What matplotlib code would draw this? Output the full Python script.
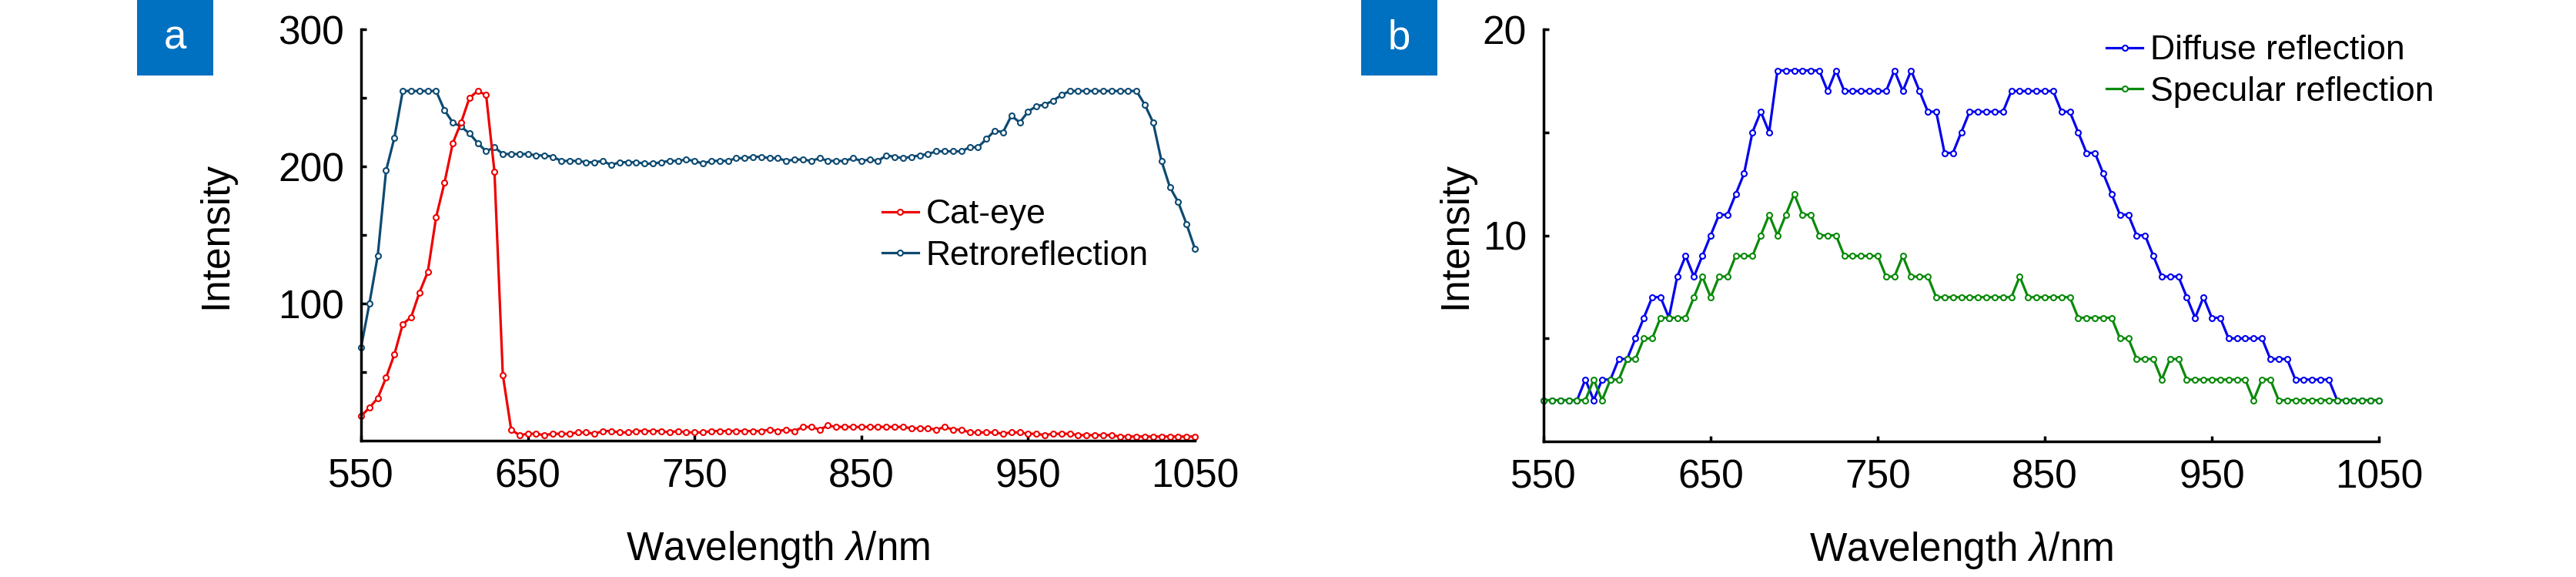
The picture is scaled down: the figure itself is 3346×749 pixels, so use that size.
import numpy as np
import matplotlib
matplotlib.use("Agg")
import matplotlib.pyplot as plt
from matplotlib.patches import Rectangle

plt.rcParams['font.family'] = ['Liberation Sans', 'DejaVu Sans']
plt.rcParams['mathtext.fontset'] = 'custom'
plt.rcParams['mathtext.rm'] = 'Liberation Sans'
plt.rcParams['mathtext.it'] = 'Liberation Sans:italic'

# wavelengths (nm), one sample every 5 nm
wavelength = np.arange(550, 1051, 5)

# panel a
cat_eye = [18, 24, 31, 46, 63, 85, 90, 108, 123, 163,
           188, 217, 232, 250, 255, 252, 196, 48, 8, 4,
           5, 5, 4, 5, 5, 5, 6, 6, 5, 7,
           7, 6, 6, 7, 7, 7, 7, 6, 7, 6,
           6, 6, 7, 7, 7, 7, 7, 7, 7, 8,
           7, 8, 7, 10, 10, 8, 11, 10, 10, 10,
           10, 10, 10, 10, 10, 10, 9, 9, 9, 8,
           10, 8, 8, 6, 6, 6, 6, 5, 6, 6,
           5, 5, 4, 5, 5, 5, 4, 4, 4, 4,
           4, 3, 3, 3, 3, 3, 3, 3, 3, 3,
           3]
retro = [68, 100, 135, 197, 221, 255, 255, 255, 255, 255,
         241, 232, 229, 224, 217, 211, 214, 209, 209, 209,
         209, 208, 208, 207, 204, 204, 204, 203, 203, 204,
         201, 203, 203, 203, 202, 202, 203, 204, 204, 205,
         204, 202, 204, 204, 204, 206, 206, 207, 207, 206,
         206, 204, 205, 205, 204, 206, 204, 204, 204, 206,
         204, 205, 204, 208, 207, 206, 207, 208, 209, 211,
         211, 211, 211, 214, 214, 220, 226, 225, 237, 232,
         240, 244, 245, 248, 252, 255, 255, 255, 255, 255,
         255, 255, 255, 255, 245, 232, 204, 185, 174, 158,
         140]

# panel b
diffuse = [2, 2, 2, 2, 2, 3, 2, 3, 3, 4,
           4, 5, 6, 7, 7, 6, 8, 9, 8, 9,
           10, 11, 11, 12, 13, 15, 16, 15, 18, 18,
           18, 18, 18, 18, 17, 18, 17, 17, 17, 17,
           17, 17, 18, 17, 18, 17, 16, 16, 14, 14,
           15, 16, 16, 16, 16, 16, 17, 17, 17, 17,
           17, 17, 16, 16, 15, 14, 14, 13, 12, 11,
           11, 10, 10, 9, 8, 8, 8, 7, 6, 7,
           6, 6, 5, 5, 5, 5, 5, 4, 4, 4,
           3, 3, 3, 3, 3, 2, 2, 2, 2, 2,
           2]
specular = [2, 2, 2, 2, 2, 2, 3, 2, 3, 3,
            4, 4, 5, 5, 6, 6, 6, 6, 7, 8,
            7, 8, 8, 9, 9, 9, 10, 11, 10, 11,
            12, 11, 11, 10, 10, 10, 9, 9, 9, 9,
            9, 8, 8, 9, 8, 8, 8, 7, 7, 7,
            7, 7, 7, 7, 7, 7, 7, 8, 7, 7,
            7, 7, 7, 7, 6, 6, 6, 6, 6, 5,
            5, 4, 4, 4, 3, 4, 4, 3, 3, 3,
            3, 3, 3, 3, 3, 2, 3, 3, 2, 2,
            2, 2, 2, 2, 2, 2, 2, 2, 2, 2,
            2]

xticks = [550, 650, 750, 850, 950, 1050]

W, H = 3346, 749
fig = plt.figure(figsize=(W / 100, H / 100), dpi=100)
ax1 = fig.add_axes([469 / W, 1 - 572 / H, 1083 / W, 534 / H])
ax2 = fig.add_axes([2005 / W, 1 - 573 / H, 1085 / W, 535 / H])

line_kw = dict(lw=2.3, marker='o', ms=5, mfc='white', mew=1.5, clip_on=False)
leg_kw = dict(frameon=False, fontsize=32, handlelength=1.05, handletextpad=0.22,
              borderpad=0, borderaxespad=0, labelspacing=0.28)

h_retro, = ax1.plot(wavelength, retro, color='#0d4a72', label='Retroreflection', **line_kw)
h_cat, = ax1.plot(wavelength, cat_eye, color='#ee0000', label='Cat-eye', **line_kw)
ax1.set_ylim(0, 300)
ax1.set_yticks([100, 200, 300])
ax1.set_yticks([50, 150, 250], minor=True)
ax1.legend(handles=[h_cat, h_retro], loc='center left', bbox_to_anchor=(0.625, 0.499), **leg_kw)

ax2.plot(wavelength, diffuse, color='#0000ee', label='Diffuse reflection', **line_kw)
ax2.plot(wavelength, specular, color='#0a8a0a', label='Specular reflection', **line_kw)
ax2.set_ylim(0, 20)
ax2.set_yticks([10, 20])
ax2.set_yticks([5, 15], minor=True)
ax2.legend(loc='center left', bbox_to_anchor=(0.674, 0.898), **leg_kw)

for ax, ylx in [(ax1, -0.151), (ax2, -0.083)]:
    ax.set_xlim(550, 1050)
    ax.set_xticks(xticks)
    for s in ['top', 'right']:
        ax.spines[s].set_visible(False)
    for s in ['left', 'bottom']:
        ax.spines[s].set_linewidth(2.5)
    ax.tick_params(which='both', direction='in', length=5, width=2.5,
                   labelsize=37, pad=16)
    ax.set_xlabel('Wavelength $\\lambda$/nm', fontsize=37)
    ax.set_ylabel('Intensity', fontsize=37)
    ax.xaxis.set_label_coords(0.5, -0.215)
    ax.yaxis.set_label_coords(ylx, 0.5)

# panel letters
for x0, letter in [(178, 'a'), (1768, 'b')]:
    fig.add_artist(Rectangle((x0 / W, 1 - 98 / H), 99 / W, 98 / H,
                             transform=fig.transFigure, color='#0070c0', lw=0))
    fig.text((x0 + 49) / W, 1 - 50 / H, letter, color='white', fontsize=38,
             ha='center', va='center')

fig.savefig('out.png', dpi=100)
